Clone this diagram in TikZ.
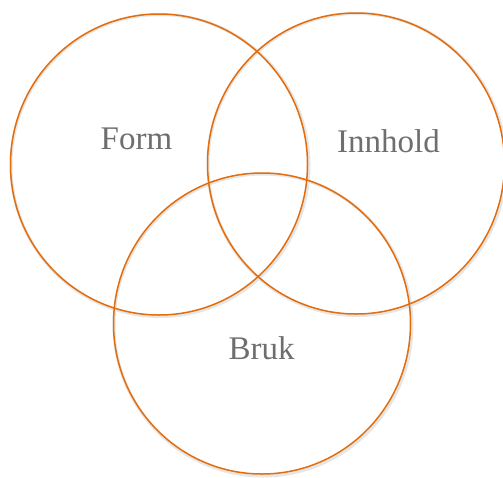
\documentclass[tikz,border=0pt]{standalone}
\usepackage{fontspec}
\setmainfont{Liberation Serif}
\usetikzlibrary{positioning,shapes.geometric}
\definecolor{vnorange}{HTML}{E46C0A}
\definecolor{vngray}{HTML}{6E6E6E}
\definecolor{vnshadow}{HTML}{E6E6E6}

\begin{document}
\begin{tikzpicture}[
  x=1pt, y=-1pt,
  set/.style={ellipse, draw=vnorange, line width=1.5pt,
              minimum width=297pt, minimum height=301pt, inner sep=0pt},
  setshadow/.style={ellipse, draw=vnshadow, line width=3pt,
                    minimum width=298pt, minimum height=302pt, inner sep=0pt},
  setlabel/.style={font=\fontsize{33}{38}\selectfont, text=vngray,
                   anchor=base, inner sep=0pt},
]
  \useasboundingbox (0,0) rectangle (503,477);

  %% soft shadows under the rings
  \node[setshadow] at (160,165.5) {};
  \node[setshadow] at (357,164.5) {};
  \node[setshadow] at (263,325) {};

  %% the three sets
  \node[set] (form) at (159,164.5) {};
  \node[set] (innhold) at (356,163.5) {};
  \node[set] (bruk) at (262,323.5) {};

  %% labels
  \node[setlabel] (formlbl) at (136.5,149.5) {Form};
  \node[setlabel] (innholdlbl) at (388.5,152.5) {Innhold};
  \node[setlabel] (bruklbl) at (261.5,359.5) {Bruk};

\end{tikzpicture}
\end{document}
